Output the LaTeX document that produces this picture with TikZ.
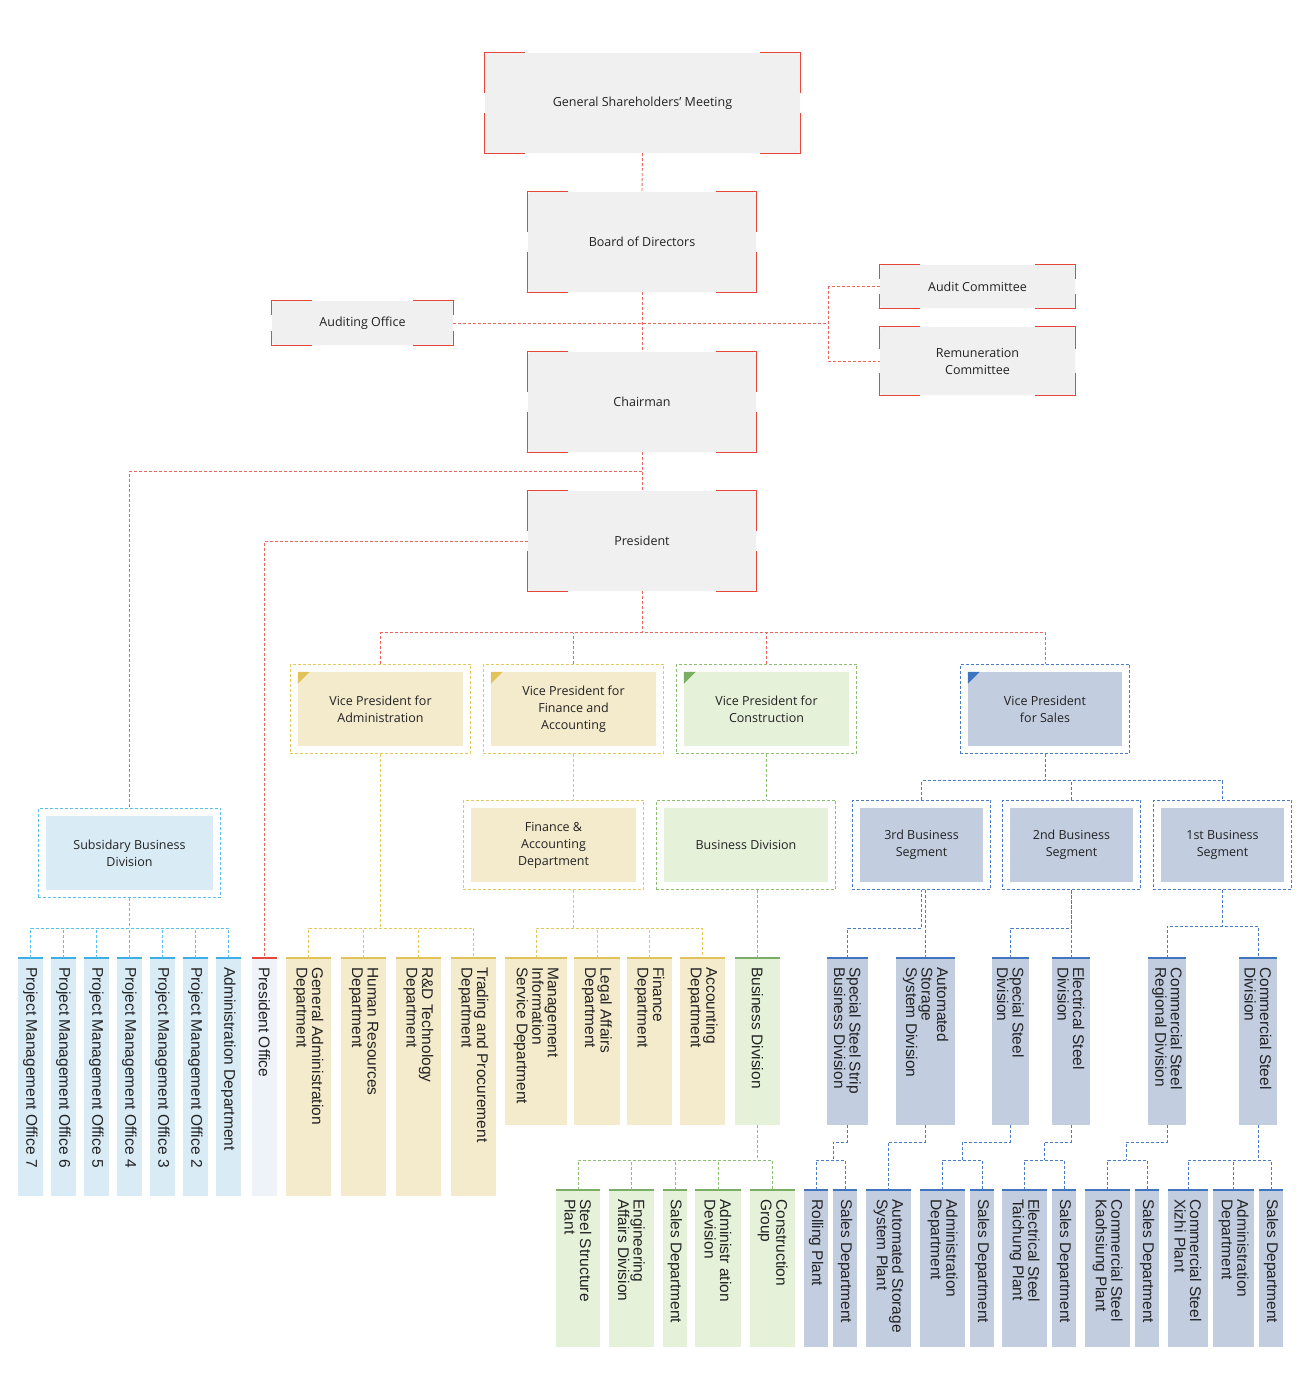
\documentclass[tikz,border=0pt]{standalone}
\usepackage{fontspec}
\setmainfont{Open Sans}
\newfontfamily\arialf{Liberation Sans}
\usetikzlibrary{fit}
\definecolor{txt}{HTML}{222222}
\definecolor{boxg}{HTML}{F0F0F0}
\definecolor{redc}{HTML}{E8463A}
\definecolor{redl}{HTML}{E8675C}
\definecolor{ylF}{HTML}{F4EBCD}
\definecolor{ylD}{HTML}{E6C85A}
\definecolor{ylT}{HTML}{E2C25A}
\definecolor{grF}{HTML}{E6F1DA}
\definecolor{grD}{HTML}{8DBF72}
\definecolor{grT}{HTML}{7AAE64}
\definecolor{blF}{HTML}{C3CDE0}
\definecolor{blD}{HTML}{4A7CC4}
\definecolor{blT}{HTML}{3F75C0}
\definecolor{lbF}{HTML}{D9EBF5}
\definecolor{lbD}{HTML}{5BC0EB}
\definecolor{lbT}{HTML}{3BAEE8}
\definecolor{poF}{HTML}{EEF2F9}
\newcommand\rb[6]{\node[rbox,minimum width=#4pt,minimum height=#5pt] (#1) at (#2,#3) {#6};}
\newcommand\crn[3]{%
 \draw[redc,line width=1.2pt] ([yshift=-#3pt]#1.north west) |- ([xshift=#2pt]#1.north west);
 \draw[redc,line width=1.2pt] ([yshift=-#3pt]#1.north east) |- ([xshift=-#2pt]#1.north east);
 \draw[redc,line width=1.2pt] ([yshift=#3pt]#1.south west) |- ([xshift=#2pt]#1.south west);
 \draw[redc,line width=1.2pt] ([yshift=#3pt]#1.south east) |- ([xshift=-#2pt]#1.south east);}
\newcommand\cb[7]{%
 \node[ibox,fill=#5,minimum width=#4pt] (#1) at (#2,#3) {#7};
 \node[obox,draw=#6,fit=(#1)] (#1O) {};}
\newcommand\tri[2]{\fill[#2] (#1.north west) -- ([xshift=12pt]#1.north west) -- ([yshift=-12pt]#1.north west) -- cycle;}
\newcommand\vb[8]{%
 \node[vbox,fill=#6,minimum width=#4pt,minimum height=#5pt] (#1) at (#2,#3) {};
 \draw[#7,line width=2.5pt] (#1.north west) -- (#1.north east);
 \node[vtext] (#1t) at ([yshift=-9pt]#1.north) {#8};}
\begin{document}
\begin{tikzpicture}[x=1pt,y=-1pt,
 rbox/.style={fill=boxg,rounded corners=3pt,inner sep=0pt,align=center,text=txt,font=\fontsize{12.5}{17}\selectfont},
 ibox/.style={inner sep=0pt,align=center,text=txt,minimum height=74pt,font=\fontsize{12.5}{17}\selectfont},
 obox/.style={dash pattern=on 3pt off 2pt,inner sep=7.5pt,line width=0.8pt},
 con/.style={dash pattern=on 3pt off 2pt,line width=0.9pt},
 vbox/.style={inner sep=0pt,anchor=north},
 vtext/.style={rotate=-90,anchor=west,align=left,inner sep=0pt,text=txt,font=\arialf\fontsize{15.5}{15.5}\selectfont}]
\useasboundingbox[fill=white] (0,0) rectangle (1301,1390);
% red boxes
\rb{gsm}{642.5}{103}{315}{100}{General Shareholders' Meeting}
\rb{board}{642}{242}{228}{100}{Board of Directors}
\rb{chair}{642}{402}{228}{100}{Chairman}
\rb{pres}{642}{541}{228}{100}{President}
\rb{audoff}{362.5}{323}{181}{44}{Auditing Office}
\rb{audc}{977.5}{286.5}{195}{43}{Audit Committee}
\rb{remc}{977.5}{361}{195}{68}{Remuneration\\Committee}
\crn{gsm}{40}{40}\crn{board}{40}{40}\crn{chair}{40}{40}\crn{pres}{40}{40}
\crn{audoff}{40}{14}\crn{audc}{40}{14}\crn{remc}{40}{22}
% connectors top
\draw[con,redl] (gsm.south) -- (board.north);
\draw[con,redl] (board.south) -- (chair.north);
\coordinate (brk) at (829,323);
\draw[con,redl] (audoff.east) -- (brk);
\draw[con,redl] (audc.west) -- ++(-51,0) |- (remc.west);
\draw[con,redl] (chair.south) -- (pres.north);
\coordinate (c1) at (642,471);
% coloured boxes
\cb{vpa}{380.5}{709}{165}{ylF}{ylD}{Vice President for\\Administration}
\cb{vpf}{573.5}{709}{165}{ylF}{ylD}{{\fontsize{12.5}{14}\selectfont Vice President for}\\{\fontsize{12.5}{14}\selectfont Finance and}\\{\fontsize{12.5}{14}\selectfont Accounting}}
\cb{vpc}{766.5}{709}{165}{grF}{grD}{Vice President for\\Construction}
\cb{vps}{1045}{709}{154}{blF}{blD}{Vice President\\for Sales}
\tri{vpa}{ylT}\tri{vpf}{ylT}\tri{vpc}{grT}\tri{vps}{blT}
\cb{fad}{553.5}{845}{165}{ylF}{ylD}{{\fontsize{12.5}{14}\selectfont Finance \&}\\{\fontsize{12.5}{14}\selectfont Accounting}\\{\fontsize{12.5}{14}\selectfont Department}}
\cb{bdv}{746}{845}{164}{grF}{grD}{Business Division}
\cb{sub}{129.5}{853}{167}{lbF}{lbD}{Subsidary Business\\Division}
\cb{sg3}{921.5}{845}{123}{blF}{blD}{3rd Business\\Segment}
\cb{sg2}{1071.5}{845}{123}{blF}{blD}{2nd Business\\Segment}
\cb{sg1}{1222.5}{845}{123}{blF}{blD}{1st Business\\Segment}
% vertical boxes
\vb{pm7}{30.5}{958}{25}{238}{lbF}{lbT}{Project Management Office 7}
\vb{pm6}{63.5}{958}{25}{238}{lbF}{lbT}{Project Management Office 6}
\vb{pm5}{96.5}{958}{25}{238}{lbF}{lbT}{Project Management Office 5}
\vb{pm4}{129.5}{958}{25}{238}{lbF}{lbT}{Project Management Office 4}
\vb{pm3}{162.5}{958}{25}{238}{lbF}{lbT}{Project Management Office 3}
\vb{pm2}{195.5}{958}{25}{238}{lbF}{lbT}{Project Management Office 2}
\vb{adm}{228.5}{958}{25}{238}{lbF}{lbT}{Administration Department}
\vb{poff}{264.5}{958}{25}{238}{poF}{redc}{President Office}
\vb{gad}{308.5}{958}{45}{238}{ylF}{ylT}{General Administration\\Department}
\vb{hr}{363.5}{958}{45}{238}{ylF}{ylT}{Human Resources\\Department}
\vb{rd}{418.5}{958}{45}{238}{ylF}{ylT}{R\&D Technology\\Department}
\vb{tp}{473.5}{958}{45}{238}{ylF}{ylT}{Trading and Procurement\\Department}
\vb{mis}{536}{958}{62}{167}{ylF}{ylT}{Management\\Information\\Service Department}
\vb{leg}{597}{958}{46}{167}{ylF}{ylT}{Legal Affairs\\Department}
\vb{fin}{649.5}{958}{45}{167}{ylF}{ylT}{Finance\\Department}
\vb{acc}{702.5}{958}{45}{167}{ylF}{ylT}{Accounting\\Department}
\vb{bd2}{757.5}{958}{45}{167}{grF}{grT}{Business Division}
\vb{ssp}{578}{1190}{44}{157}{grF}{grT}{Steel Structure\\Plant}
\vb{eng}{631.5}{1190}{45}{157}{grF}{grT}{Engineering\\Affairs Division}
\vb{gsd}{675}{1190}{24}{157}{grF}{grT}{Sales Department}
\vb{adv}{718}{1190}{46}{157}{grF}{grT}{Administr ation\\Devision}
\vb{cg}{772.5}{1190}{45}{157}{grF}{grT}{Construction\\Group}
\vb{sssb}{847.5}{958}{41}{167}{blF}{blT}{Special Steel Strip\\Business Division}
\vb{asd}{925.5}{958}{59}{167}{blF}{blT}{Automated\\Storage\\System Division}
\vb{ssd}{1010.5}{958}{37}{167}{blF}{blT}{Special Steel\\Division}
\vb{esd}{1071}{958}{38}{167}{blF}{blT}{Electrical Steel\\Division}
\vb{csr}{1167}{958}{38}{167}{blF}{blT}{Commercial Steel\\Regional Division}
\vb{csd}{1258}{958}{38}{167}{blF}{blT}{Commercial Steel\\Division}
\vb{rp}{816}{1190}{24}{157}{blF}{blT}{Rolling Plant}
\vb{sa}{845}{1190}{24}{157}{blF}{blT}{Sales Department}
\vb{asp}{888.5}{1190}{45}{157}{blF}{blT}{Automated Storage\\System Plant}
\vb{ada}{942.5}{1190}{45}{157}{blF}{blT}{Administration\\Department}
\vb{sb}{982}{1190}{24}{157}{blF}{blT}{Sales Department}
\vb{et}{1024.5}{1190}{45}{157}{blF}{blT}{Electrical Steel\\Taichung Plant}
\vb{sc}{1064}{1190}{24}{157}{blF}{blT}{Sales Department}
\vb{ck}{1107.5}{1190}{45}{157}{blF}{blT}{Commercial Steel\\Kaohsiung Plant}
\vb{sd}{1147}{1190}{24}{157}{blF}{blT}{Sales Department}
\vb{cx}{1188}{1190}{40}{157}{blF}{blT}{Commercial Steel\\Xizhi Plant}
\vb{adb}{1233.5}{1190}{41}{157}{blF}{blT}{Administration\\Department}
\vb{se}{1271}{1190}{24}{157}{blF}{blT}{Sales Department}
% red connectors lower
\draw[con,redl] (c1) -| (subO.north);
\draw[con,redl] (pres.west) -| (poff.north);
\draw[con,redl] (pres.south) -- (642,633);
\draw[con,redl] (vpaO.north) -- ++(0,-31) -| (vpsO.north);
\draw[con,redl] (vpfO.north) -- ++(0,-31);
\draw[con,redl] (vpcO.north) -- ++(0,-31);
% light blue
\draw[con,lbD] (subO.south) -- (129.5,928);
\draw[con,lbD] (pm7.north) -- ++(0,-30) -| (adm.north);
\foreach \n in {pm6,pm5,pm4,pm3,pm2} \draw[con,lbD] (\n.north) -- ++(0,-30);
% yellow
\draw[con,ylD] (vpaO.south) -- (380.5,928);
\draw[con,ylD] (gad.north) -- ++(0,-30) -| (tp.north);
\draw[con,ylD] (hr.north) -- ++(0,-30);
\draw[con,ylD] (rd.north) -- ++(0,-30);
\draw[con,ylD] (vpfO.south) -- (fadO.north -| vpfO.south);
\draw[con,ylD] (fadO.south -| vpf) -- (573.5,928);
\draw[con,ylD] (mis.north) -- ++(0,-30) -| (acc.north);
\draw[con,ylD] (leg.north) -- ++(0,-30);
\draw[con,ylD] (fin.north) -- ++(0,-30);
% green
\draw[con,grD] (vpcO.south) -- (bdvO.north -| vpcO.south);
\draw[con,grD] (bd2.north) -- (bdvO.south -| bd2.north);
\draw[con,grD] (bd2.south) -- (757.5,1160);
\draw[con,grD] (ssp.north) -- ++(0,-30) -| (cg.north);
\foreach \n in {eng,gsd,adv} \draw[con,grD] (\n.north) -- ++(0,-30);
% blue
\draw[con,blD] (vpsO.south) -- (1045,781);
\draw[con,blD] (sg3O.north) -- ++(0,-19) -| (sg1O.north);
\draw[con,blD] (sg2O.north) -- ++(0,-19);
\draw[con,blD] (sssb.north) -- ++(0,-30) -| (sg3O.south);
\draw[con,blD] (asd.north) -- (sg3O.south -| asd.north);
\draw[con,blD] (ssd.north) -- ++(0,-30) -| (sg2O.south);
\draw[con,blD] (esd.north) -- (sg2O.south -| esd.north);
\draw[con,blD] (csr.north) -- ++(0,-32) -| (csd.north);
\draw[con,blD] (sg1O.south) -- (1222.5,926);
\draw[con,blD] (sssb.south) |- (833,1142) -- (833,1160);
\draw[con,blD] (rp.north) -- ++(0,-30) -| (sa.north);
\draw[con,blD] (asd.south) |- (888.5,1142) -- (asp.north);
\draw[con,blD] (ssd.south) |- (962,1142) -- (962,1160);
\draw[con,blD] (ada.north) -- ++(0,-30) -| (sb.north);
\draw[con,blD] (esd.south) |- (1044,1142) -- (1044,1160);
\draw[con,blD] (et.north) -- ++(0,-30) -| (sc.north);
\draw[con,blD] (csr.south) |- (1126,1142) -- (1126,1160);
\draw[con,blD] (ck.north) -- ++(0,-30) -| (sd.north);
\draw[con,blD] (csd.south) -- (1258,1160);
\draw[con,blD] (cx.north) -- ++(0,-30) -| (se.north);
\draw[con,blD] (adb.north) -- ++(0,-30);
\end{tikzpicture}
\end{document}
